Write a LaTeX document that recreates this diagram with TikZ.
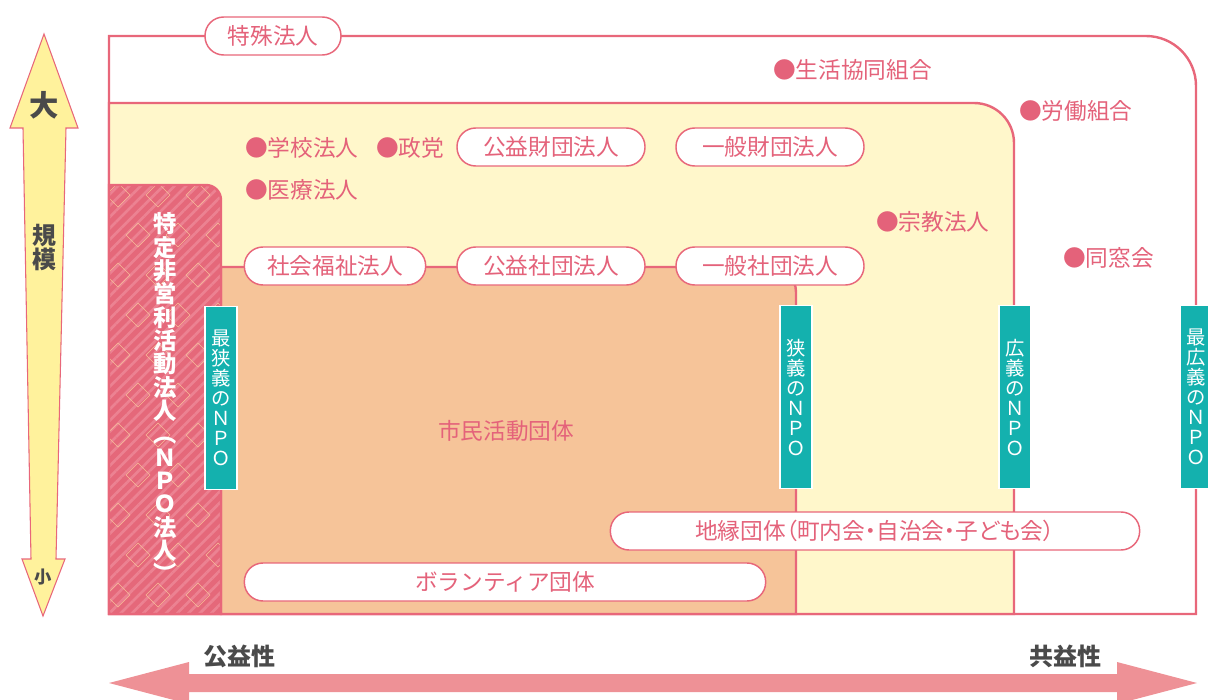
\documentclass[tikz,border=0pt]{standalone}
\usepackage{fontspec}
\setmainfont{Noto Sans CJK JP}
\newfontfamily\jppalt[RawFeature=+palt]{Noto Sans CJK JP}
\usepackage{tikz}
\usetikzlibrary{patterns.meta}

\definecolor{linepink}{HTML}{E8677A}
\definecolor{textpink}{HTML}{E4627A}
\definecolor{hatchpink}{HTML}{E5687A}
\definecolor{stripepink}{HTML}{EC8292}
\definecolor{latticeline}{HTML}{F8C49A}
\definecolor{yellowfill}{HTML}{FFF7CB}
\definecolor{orangefill}{HTML}{F6C499}
\definecolor{npoteal}{HTML}{14B1AE}
\definecolor{arrowpink}{HTML}{EE9196}
\definecolor{arrowyellow}{HTML}{FFF29C}
\definecolor{darkgray}{HTML}{4A4A4A}

\newcommand{\lblfont}{\fontsize{17}{20}\selectfont}
\newcommand{\npofont}{\fontsize{14.5}{15}\selectfont}
\newcommand{\corpfont}{\bfseries\fontsize{17.5}{17.5}\selectfont}

\tikzset{
	boxline/.style={draw=linepink, line width=1.8pt},
	pill/.style={draw=linepink, line width=1.1pt, fill=white, rounded corners=14pt, minimum height=28.5pt, inner sep=0pt, text=textpink, font=\lblfont},
	member/.style={anchor=west, inner sep=0pt, text=textpink, font=\lblfont},
	npobox/.style={draw=white, line width=1.2pt, fill=npoteal, text=white, minimum width=24pt, minimum height=137pt, inner sep=0pt, align=center, font=\npofont},
	axislabel/.style={text=darkgray, inner sep=0pt, align=center},
	lattice/.style={draw=latticeline, line width=0.5pt, opacity=0.9},
}

\begin{document}
\begin{tikzpicture}[x=0.75pt, y=-0.75pt]
	\useasboundingbox (0,0) rectangle (1208,700);

	% frames
	\draw[boxline, fill=white] (109,614) -- (109,36) -- (1146,36) .. controls (1173.6,36) and (1196,58.4) .. (1196,86) -- (1196,614) -- cycle;
	\draw[boxline, fill=yellowfill] (109,614) -- (109,103) -- (974,103) .. controls (996.1,103) and (1014,120.9) .. (1014,143) -- (1014,614) -- cycle;
	\draw[boxline, fill=orangefill] (221,614) -- (221,267) -- (771,267) .. controls (784.8,267) and (796,278.2) .. (796,292) -- (796,614) -- cycle;

	% NPO houjin column
	\begin{scope}
		\clip (109,614) -- (109,185) -- (206,185) .. controls (214.3,185) and (221,191.7) .. (221,200) -- (221,614) -- cycle;
		\fill[hatchpink] (100,180) rectangle (230,620);
		\fill[pattern={Lines[angle=45,distance=6pt,line width=2pt]}, pattern color=stripepink] (100,180) rectangle (230,620);
		\foreach \col in {0,...,3} {
			\foreach \row in {0,...,10} {
				\draw[lattice] ({118+\col*40+mod(\row,2)*20}, {195+\row*40}) ++(0,-12) -- ++(12,12) -- ++(-12,12) -- ++(-12,-12) -- cycle;
			}
		}
	\end{scope}
	\draw[boxline] (109,614) -- (109,185) -- (206,185) .. controls (214.3,185) and (221,191.7) .. (221,200) -- (221,614) -- cycle;
	\node[text=white, align=center, font=\corpfont, inner sep=0pt] (corp) at (165,398) {特\\定\\非\\営\\利\\活\\動\\法\\人\\︵\\Ｎ\\Ｐ\\Ｏ\\法\\人\\︶};

	% pills
	\node[pill, minimum width=102pt] (special) at (273,36) {特殊法人};
	\node[pill, minimum width=141pt] (pubfound) at (551,147) {公益財団法人};
	\node[pill, minimum width=141pt] (genfound) at (770,147) {一般財団法人};
	\node[pill, minimum width=136pt] (welfare) at (335,266) {社会福祉法人};
	\node[pill, minimum width=141pt] (pubassoc) at (551,266) {公益社団法人};
	\node[pill, minimum width=141pt] (genassoc) at (770,266) {一般社団法人};
	\node[pill, minimum width=397pt] (chien) at (875,531) {\jppalt 地縁団体（町内会・自治会・子ども会）};
	\node[pill, minimum width=391pt] (volunteer) at (505,582) {ボランティア団体};

	% members
	\node[member] (school) at (245,148) {●学校法人};
	\node[member] (party) at (376,148) {●政党};
	\node[member] (medical) at (245,190) {●医療法人};
	\node[member] (coop) at (773,70) {●生活協同組合};
	\node[member] (union) at (1019,111) {●労働組合};
	\node[member] (religion) at (876,222) {●宗教法人};
	\node[member] (alumni) at (1063,258) {●同窓会};
	\node[text=textpink, font=\lblfont, inner sep=0pt] (civic) at (506,431) {市民活動団体};

	% NPO tags
	\node[npobox] (npoa) at (221,398) {最\\狭\\義\\の\\Ｎ\\Ｐ\\Ｏ};
	\node[npobox] (npob) at (796,397) {狭\\義\\の\\Ｎ\\Ｐ\\Ｏ};
	\node[npobox] (npoc) at (1015,397) {広\\義\\の\\Ｎ\\Ｐ\\Ｏ};
	\node[npobox] (npod) at (1196,397) {最\\広\\義\\の\\Ｎ\\Ｐ\\Ｏ};

	% scale arrow
	\draw[draw=linepink, line width=0.8pt, fill=arrowyellow] (44,34) -- (78,128) -- (66,128) -- (56,559) -- (65,559) -- (43,616) -- (22,559) -- (31,559) -- (23,128) -- (10,128) -- cycle;
	\node[axislabel, font=\bfseries\fontsize{22}{22}\selectfont] (big) at (44,105) {大};
	\node[axislabel, font=\bfseries\fontsize{18}{18}\selectfont] (scale) at (44,247) {規\\模};
	\node[axislabel, font=\bfseries\fontsize{13}{13}\selectfont] (small) at (43,577) {小};

	% public arrow
	\fill[arrowpink] (109,683) -- (189,662) -- (189,674) -- (1117,674) -- (1117,662) -- (1197,683) -- (1117,704) -- (1117,692) -- (189,692) -- (189,704) -- cycle;
	\node[axislabel, font=\bfseries\fontsize{18}{18}\selectfont] (public) at (239,656) {公益性};
	\node[axislabel, font=\bfseries\fontsize{18}{18}\selectfont] (mutual) at (1065,656) {共益性};

\end{tikzpicture}
\end{document}
